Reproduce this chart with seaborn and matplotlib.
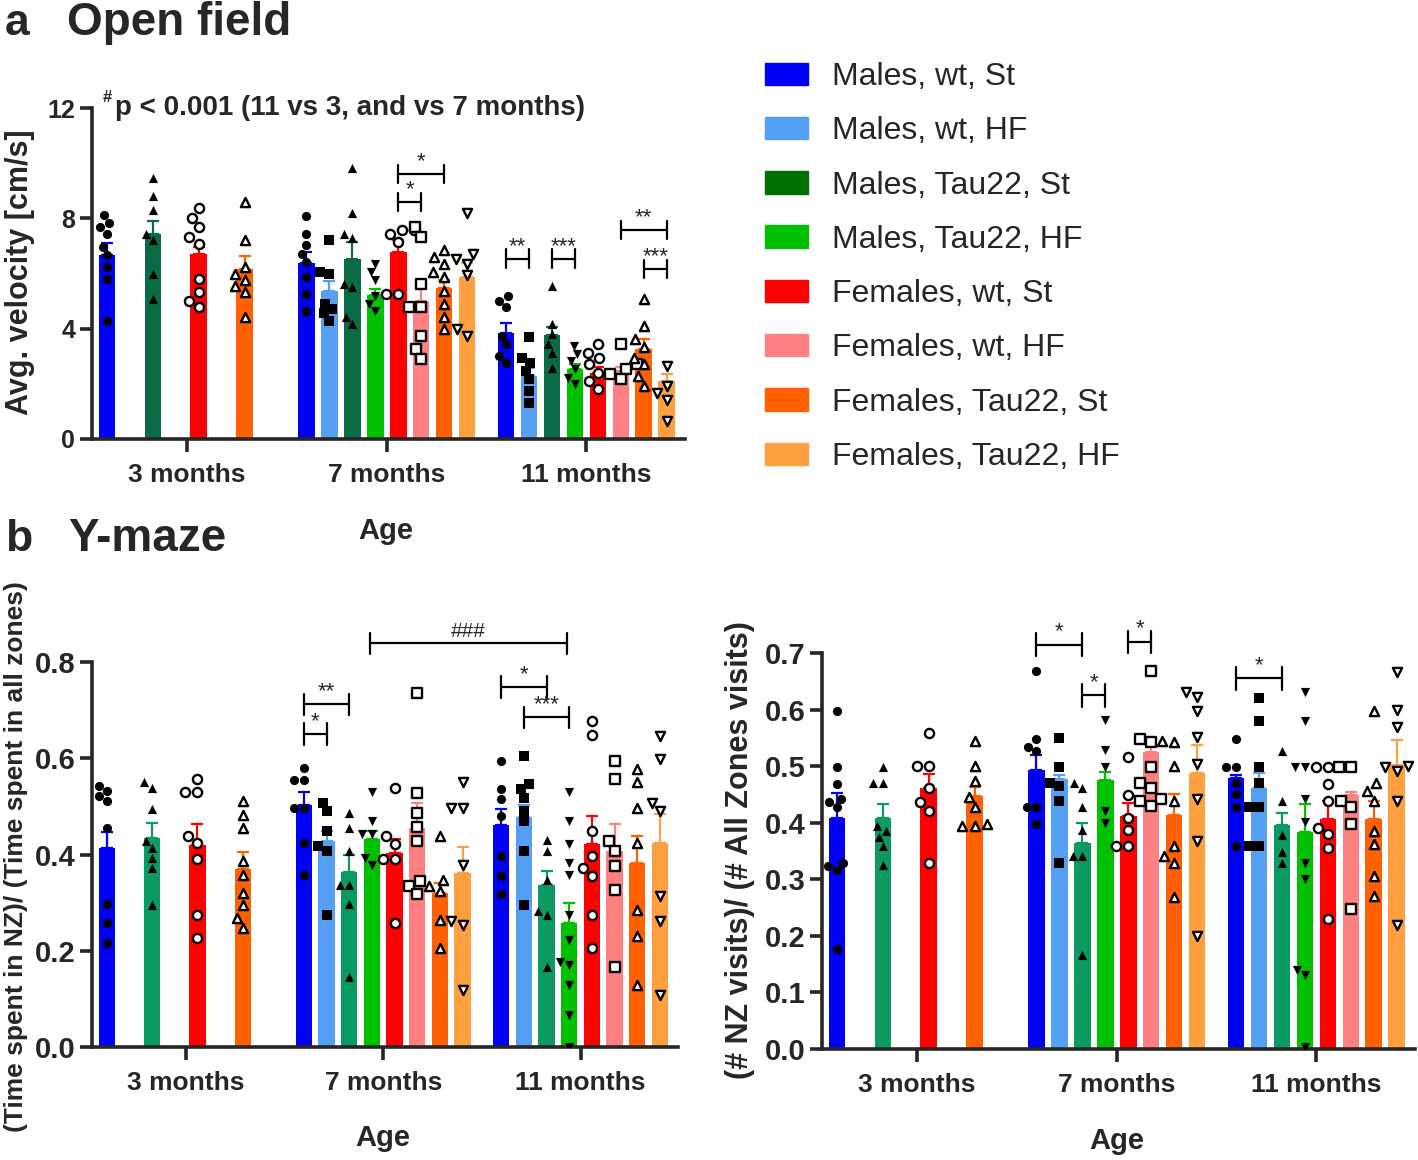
"""
Open field velocity and Y-maze ratios: bars (mean + SEM) with individual animals.
"""

import warnings
import numpy as np
import pandas as pd
import matplotlib
matplotlib.use("Agg")
import matplotlib.pyplot as plt
from matplotlib.patches import Patch
import seaborn as sns

warnings.filterwarnings("ignore")

W, H = 1418, 1160

GROUPS = ["Males, wt, St", "Males, wt, HF", "Males, Tau22, St", "Males, Tau22, HF",
          "Females, wt, St", "Females, wt, HF", "Females, Tau22, St", "Females, Tau22, HF"]
AGES = ["3 months", "7 months", "11 months"]
MARKERS = ["o", "s", "^", "v", "o", "s", "^", "v"]
FILLED = [True, True, True, True, False, False, False, False]

COLORS_A = ["#0000f5", "#55a0f5", "#0a6b45", "#00c000", "#ff0000", "#ff8080", "#ff6000", "#ffa040"]
COLORS_B = ["#0000f5", "#55a0f5", "#0b9a62", "#00c000", "#ff0000", "#ff8080", "#ff6000", "#ffa040"]
LEGEND_COLORS = ["#0000f5", "#55a0f5", "#007000", "#00c000", "#ff0000", "#ff8080", "#ff6000", "#ffa040"]

# ---------------------------------------------------------------------------
# a  Open field - average velocity [cm/s]
# ---------------------------------------------------------------------------
of_means = {
    "3 months":  [6.68, None, 7.42, None, 6.72, None, 6.15, None],
    "7 months":  [6.39, 5.36, 6.54, 5.22, 6.79, 5.02, 5.48, 5.89],
    "11 months": [3.83, 2.28, 3.77, 2.53, 2.41, 2.47, 3.26, 2.10],
}
of_sem = {
    "3 months":  [0.42, None, 0.48, None, 0.24, None, 0.48, None],
    "7 months":  [0.40, 0.36, 0.60, 0.22, 0.41, 0.48, 0.27, 0.50],
    "11 months": [0.37, 0.30, 0.30, 0.20, 0.20, 0.15, 0.35, 0.25],
}
of_points = {
    "3 months": [
        [8.12, 7.84, 7.69, 7.45, 6.96, 6.66, 6.23, 5.81, 4.29], [],
        [9.45, 8.8, 8.3, 7.45, 7.2, 6.0, 5.08], [],
        [8.36, 8.03, 7.69, 7.33, 7.06, 5.81, 5.32, 5.02, 4.78], [],
        [8.6, 7.23, 6.23, 6.0, 5.77, 5.56, 5.32, 4.43], [],
    ],
    "7 months": [
        [8.08, 7.42, 7.02, 6.72, 6.42, 5.87, 5.26, 4.65],
        [7.2, 6.05, 6.0, 4.9, 4.71, 4.56, 4.29],
        [9.82, 8.18, 7.45, 7.27, 5.63, 5.5, 4.41, 4.17],
        [6.35, 6.05, 5.75, 5.2, 4.9, 4.65],
        [7.57, 7.57, 7.45, 7.14, 5.26, 5.26],
        [7.69, 7.33, 5.63, 4.78, 4.78, 3.74, 3.26, 2.89],
        [6.84, 6.6, 6.35, 6.05, 5.87, 5.38, 4.9, 4.41, 3.99],
        [8.18, 6.72, 6.54, 6.35, 5.93, 3.99, 3.74],
    ],
    "11 months": [
        [5.2, 5.02, 4.78, 3.74, 3.44, 3.01, 2.77],
        [3.68, 2.95, 2.77, 2.47, 2.16, 1.74, 1.31],
        [5.53, 4.17, 3.8, 3.44, 3.13, 2.59],
        [3.38, 3.07, 2.83, 2.53, 2.22, 1.98],
        [3.44, 3.13, 2.95, 2.71, 2.41, 2.1, 1.8],
        [3.44, 2.71, 2.53, 2.35, 2.16],
        [5.08, 4.11, 3.62, 3.32, 2.95, 2.71, 2.28, 1.92],
        [2.65, 1.92, 1.68, 1.43, 0.64],
    ],
}
# (age index, group 1, group 2, height, label)
of_brackets = [(1, 4, 5, 8.6, "*"), (1, 4, 6, 9.6, "*"),
               (2, 0, 1, 6.54, "**"), (2, 2, 3, 6.54, "***"),
               (2, 5, 7, 7.57, "**"), (2, 6, 7, 6.17, "***")]

# ---------------------------------------------------------------------------
# b  Y-maze - time in NZ / time in all zones
# ---------------------------------------------------------------------------
time_means = {
    "3 months":  [0.414, None, 0.435, None, 0.419, None, 0.369, None],
    "7 months":  [0.503, 0.428, 0.364, 0.433, 0.403, 0.456, 0.320, 0.362],
    "11 months": [0.461, 0.477, 0.337, 0.257, 0.421, 0.407, 0.383, 0.424],
}
time_sem = {
    "3 months":  [0.033, None, 0.031, None, 0.044, None, 0.037, None],
    "7 months":  [0.026, 0.020, 0.035, 0.015, 0.030, 0.050, 0.020, 0.053],
    "11 months": [0.033, 0.025, 0.028, 0.042, 0.059, 0.056, 0.055, 0.060],
}
time_points = {
    "3 months": [
        [0.543, 0.532, 0.522, 0.511, 0.456, 0.297, 0.257, 0.216], [],
        [0.55, 0.539, 0.494, 0.428, 0.414, 0.393, 0.372, 0.296], [],
        [0.557, 0.529, 0.529, 0.438, 0.424, 0.39, 0.275, 0.226], [],
        [0.511, 0.483, 0.456, 0.386, 0.358, 0.32, 0.296, 0.268, 0.247], [],
    ],
    "7 months": [
        [0.579, 0.554, 0.554, 0.497, 0.497, 0.424, 0.357],
        [0.508, 0.49, 0.449, 0.417, 0.407, 0.275],
        [0.486, 0.456, 0.407, 0.336, 0.336, 0.297, 0.146],
        [0.529, 0.47, 0.442, 0.442, 0.393, 0.379],
        [0.539, 0.438, 0.421, 0.39, 0.39, 0.257],
        [0.735, 0.527, 0.487, 0.457, 0.428, 0.344, 0.334, 0.317],
        [0.438, 0.348, 0.334, 0.325, 0.264, 0.205],
        [0.55, 0.497, 0.497, 0.379, 0.261, 0.254, 0.118],
    ],
    "11 months": [
        [0.595, 0.536, 0.515, 0.48, 0.397, 0.355, 0.317],
        [0.605, 0.546, 0.536, 0.518, 0.49, 0.47, 0.407, 0.296],
        [0.431, 0.407, 0.348, 0.282, 0.275, 0.167],
        [0.529, 0.47, 0.421, 0.383, 0.358, 0.275, 0.223, 0.177, 0.17, 0.129, 0.066, 0.0],
        [0.678, 0.649, 0.449, 0.397, 0.372, 0.355, 0.275, 0.205],
        [0.595, 0.557, 0.428, 0.407, 0.376, 0.327, 0.167],
        [0.577, 0.55, 0.497, 0.424, 0.285, 0.23, 0.129],
        [0.647, 0.598, 0.508, 0.49, 0.313, 0.261, 0.108],
    ],
}
time_brackets = [(1, 0, 1, 0.65, "*"), (1, 0, 2, 0.712, "**"),
                 (2, 0, 2, 0.748, "*"), (2, 1, 3, 0.685, "***")]

# ---------------------------------------------------------------------------
# b  Y-maze - NZ visits / all zones visits
# ---------------------------------------------------------------------------
visit_means = {
    "3 months":  [0.408, None, 0.409, None, 0.461, None, 0.448, None],
    "7 months":  [0.494, 0.477, 0.365, 0.475, 0.411, 0.525, 0.414, 0.487],
    "11 months": [0.479, 0.462, 0.396, 0.383, 0.407, 0.449, 0.407, 0.502],
}
visit_sem = {
    "3 months":  [0.044, None, 0.024, None, 0.025, None, 0.015, None],
    "7 months":  [0.026, 0.008, 0.034, 0.015, 0.024, 0.020, 0.037, 0.050],
    "11 months": [0.006, 0.026, 0.022, 0.050, 0.032, 0.005, 0.032, 0.044],
}
visit_points = {
    "3 months": [
        [0.598, 0.498, 0.468, 0.442, 0.436, 0.427, 0.329, 0.323, 0.317, 0.177], [],
        [0.498, 0.471, 0.471, 0.394, 0.386, 0.374, 0.359, 0.326], [],
        [0.558, 0.5, 0.5, 0.462, 0.436, 0.421, 0.328], [],
        [0.544, 0.5, 0.474, 0.445, 0.427, 0.397, 0.394, 0.394], [],
    ],
    "7 months": [
        [0.668, 0.548, 0.533, 0.527, 0.427, 0.427, 0.397],
        [0.55, 0.499, 0.471, 0.465, 0.439, 0.328],
        [0.47, 0.461, 0.427, 0.388, 0.341, 0.341, 0.167],
        [0.581, 0.529, 0.499, 0.421, 0.4],
        [0.517, 0.449, 0.409, 0.388, 0.359, 0.359],
        [0.668, 0.548, 0.542, 0.499, 0.471, 0.462, 0.442, 0.439, 0.43],
        [0.544, 0.542, 0.5, 0.439, 0.358, 0.341, 0.329, 0.268],
        [0.631, 0.622, 0.598, 0.551, 0.503, 0.442, 0.368, 0.199],
    ],
    "11 months": [
        [0.548, 0.499, 0.498, 0.47, 0.451, 0.427, 0.359],
        [0.621, 0.58, 0.499, 0.47, 0.427, 0.427, 0.359, 0.359],
        [0.527, 0.438, 0.378, 0.349, 0.329],
        [0.631, 0.58, 0.499, 0.499, 0.442, 0.402, 0.329, 0.3, 0.14, 0.131, 0.004],
        [0.499, 0.499, 0.468, 0.439, 0.391, 0.38, 0.356, 0.229],
        [0.499, 0.499, 0.439, 0.427, 0.397, 0.248],
        [0.598, 0.47, 0.456, 0.439, 0.386, 0.362, 0.306, 0.27],
        [0.666, 0.6, 0.569, 0.5, 0.498, 0.492, 0.439, 0.22],
    ],
}
visit_brackets = [(1, 0, 2, 0.715, "*"), (1, 4, 5, 0.72, "*"),
                  (1, 2, 3, 0.625, "*"), (2, 0, 2, 0.655, "*")]

GROUP_STEP = 8.7   # slot distance between age groups


def slot(age_i, grp_i):
    return age_i * GROUP_STEP + grp_i


def draw_panel(ax, means, sems, points, colors, ylim, yticks, fmt, brackets, ytick_size):
    rows, pts = [], []
    for ai, age in enumerate(AGES):
        for gi in range(8):
            if means[age][gi] is None:
                continue
            rows.append({"pos": slot(ai, gi), "mean": means[age][gi],
                         "sem": sems[age][gi], "group": GROUPS[gi]})
            for v in points[age][gi]:
                pts.append({"pos": slot(ai, gi), "val": v, "g": gi})
    bars = pd.DataFrame(rows)
    dots = pd.DataFrame(pts)

    sns.barplot(data=bars, x="pos", y="mean", hue="group", hue_order=GROUPS,
                palette=colors, native_scale=True, dodge=False, width=0.72,
                errorbar=None, legend=False, saturation=1, linewidth=0, ax=ax)
    for _, r in bars.iterrows():
        c = colors[GROUPS.index(r["group"])]
        ax.errorbar(r["pos"], r["mean"], yerr=[[0], [r["sem"]]], color=c,
                    capsize=4, elinewidth=1.6, capthick=1.6, zorder=2)

    for gi in range(8):
        sub = dots[dots["g"] == gi]
        if FILLED[gi]:
            kw = dict(color="black", linewidth=0)
        else:
            kw = dict(color="white", edgecolor="black", linewidth=1.7)
        sns.swarmplot(data=sub, x="pos", y="val", native_scale=True, orient="x",
                      marker=MARKERS[gi], size=6.6, ax=ax, zorder=3, **kw)

    span = ylim[1] - ylim[0]
    h = 0.028 * span
    for ai, g1, g2, y, lab in brackets:
        x1, x2 = slot(ai, g1), slot(ai, g2)
        ax.plot([x1, x2], [y, y], color="black", lw=1.6, clip_on=False, zorder=4)
        for xx in (x1, x2):
            ax.plot([xx, xx], [y - h, y + h], color="black", lw=1.6,
                    clip_on=False, zorder=4)
        ax.text((x1 + x2) / 2, y + 0.2 * h, lab, ha="center", va="bottom",
                fontsize=16, clip_on=False)

    ax.set_xlim(-0.65, 25.2)
    ax.set_ylim(*ylim)
    ax.set_xticks([slot(ai, 3.5) for ai in range(3)])
    ax.set_xticklabels(AGES, fontsize=19, fontweight="bold")
    ax.set_yticks(yticks)
    ax.set_yticklabels([fmt.format(t) for t in yticks], fontsize=ytick_size,
                       fontweight="bold")
    sns.despine(ax=ax)
    for sp in ("left", "bottom"):
        ax.spines[sp].set_linewidth(2.6)
    ax.tick_params(axis="both", width=2.6, length=9, pad=3)
    ax.tick_params(axis="x", pad=8)
    ax.set_xlabel("")
    ax.set_ylabel("")


sns.set_theme(style="ticks")
plt.rcParams["font.family"] = ["Liberation Sans", "DejaVu Sans"]

fig = plt.figure(figsize=(W / 100, H / 100), dpi=100)

ax_a = fig.add_axes([92 / W, 1 - 439 / H, 593 / W, 331 / H])
ax_bl = fig.add_axes([92 / W, 1 - 1047 / H, 586 / W, 385 / H])
ax_br = fig.add_axes([822 / W, 1 - 1049 / H, 593 / W, 396 / H])

draw_panel(ax_a, of_means, of_sem, of_points, COLORS_A, (0, 12), [0, 4, 8, 12],
           "{:.0f}", of_brackets, 18)
draw_panel(ax_bl, time_means, time_sem, time_points, COLORS_B, (0, 0.8),
           [0, 0.2, 0.4, 0.6, 0.8], "{:.1f}", time_brackets, 21)
draw_panel(ax_br, visit_means, visit_sem, visit_points, COLORS_B, (0, 0.7),
           [0, 0.1, 0.2, 0.3, 0.4, 0.5, 0.6, 0.7], "{:.1f}", visit_brackets, 21)

# "###" comparison between 7 and 11 months (time ratio)
x1, x2, yb, hb = slot(1, 3.5) - 0.6, slot(2, 3.5) - 0.6, 0.839, 0.022
ax_bl.plot([x1, x2], [yb, yb], color="black", lw=1.6, clip_on=False)
for xx in (x1, x2):
    ax_bl.plot([xx, xx], [yb - hb, yb + hb], color="black", lw=1.6, clip_on=False)
ax_bl.text((x1 + x2) / 2, yb + 0.005, "###", ha="center", va="bottom",
           fontsize=15, clip_on=False)

# axis labels (label coords: right edge for y labels, top edge for x labels)
ax_a.set_ylabel("Avg. velocity [cm/s]", fontsize=22, fontweight="bold")
ax_a.yaxis.set_label_coords(-0.096, 0.505)
ax_a.set_xlabel("Age", fontsize=21, fontweight="bold")
ax_a.xaxis.set_label_coords(0.496, -0.236)

ax_bl.set_ylabel("(Time spent in NZ)/ (Time spent in all zones)", fontsize=19,
                 fontweight="bold")
ax_bl.yaxis.set_label_coords(-0.11, 0.494)
ax_bl.set_xlabel("Age", fontsize=21, fontweight="bold")
ax_bl.xaxis.set_label_coords(0.497, -0.2)

ax_br.set_ylabel("(# NZ visits)/ (# All Zones visits)", fontsize=22, fontweight="bold")
ax_br.yaxis.set_label_coords(-0.113, 0.503)
ax_br.set_xlabel("Age", fontsize=21, fontweight="bold")
ax_br.xaxis.set_label_coords(0.497, -0.197)

# panel titles and note
fig.text(5 / W, 1 - 35 / H, "a", fontsize=32, fontweight="bold", va="baseline")
fig.text(67 / W, 1 - 35 / H, "Open field", fontsize=33, fontweight="bold", va="baseline")
fig.text(5 / W, 1 - 551 / H, "b", fontsize=32, fontweight="bold", va="baseline")
fig.text(68 / W, 1 - 551 / H, "Y-maze", fontsize=33, fontweight="bold", va="baseline")
fig.text(103 / W, 1 - 97 / H, "#", fontsize=12, fontweight="bold", va="center")
fig.text(115 / W, 1 - 108 / H, "p < 0.001 (11 vs 3, and vs 7 months)", fontsize=20,
         fontweight="bold", va="center")

handles = [Patch(color=c, label=g) for c, g in zip(LEGEND_COLORS, GROUPS)]
fig.legend(handles=handles, loc="upper left", bbox_to_anchor=(765 / W, 1 - 62 / H),
           frameon=False, fontsize=23, handlelength=1.35, handleheight=0.7,
           handletextpad=0.75, labelspacing=0.76, borderpad=0, borderaxespad=0)

fig.savefig("out.png", dpi=100)
